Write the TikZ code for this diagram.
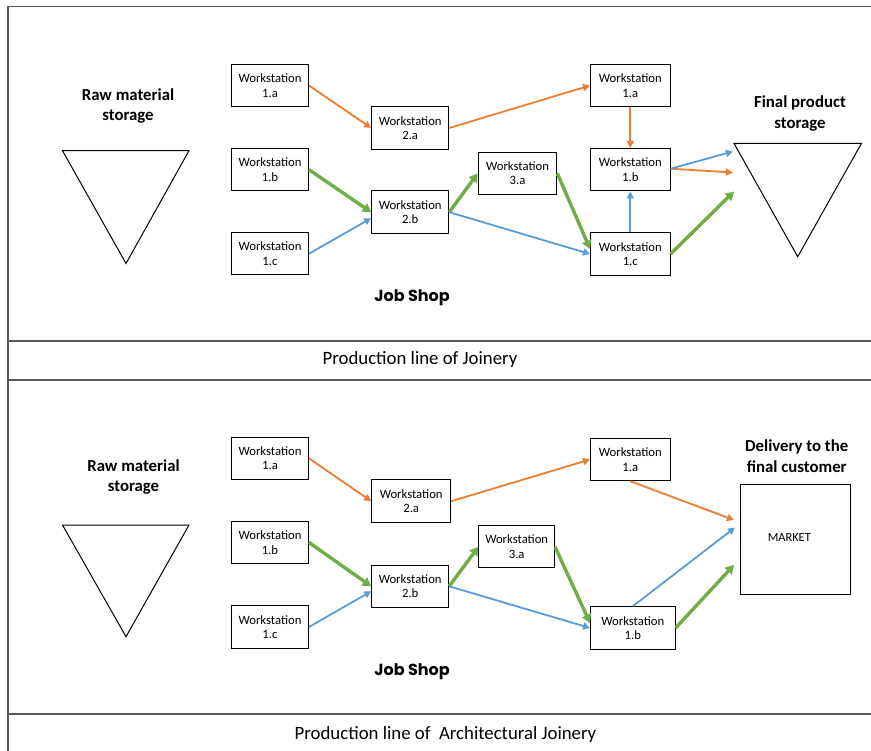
\documentclass[tikz,border=0pt]{standalone}
\usepackage{fontspec}
\setmainfont{Carlito}
\newfontfamily\shopfont{Poppins}
\usetikzlibrary{arrows.meta}
\definecolor{flowor}{HTML}{ED7D31}
\definecolor{flowbl}{HTML}{5B9BD5}
\definecolor{flowgr}{HTML}{70AD47}
\definecolor{framegray}{HTML}{595959}
\begin{document}
\begin{tikzpicture}[x=1pt,y=-1pt,
  ws/.style={draw=black, line width=1pt, fill=white, minimum width=77pt, minimum height=42.5pt,
    inner sep=0pt, align=center, font=\fontsize{12.7}{14.4}\selectfont},
  wide/.style={minimum width=79.5pt},
  heading/.style={align=center, font=\fontsize{16.8}{20.5}\selectfont\bfseries},
  caption/.style={font=\fontsize{18.8}{22}\selectfont},
  shop/.style={font=\fontsize{16}{19}\shopfont\bfseries},
  store/.style={draw=black, line width=1pt, line join=miter},
  frameline/.style={draw=framegray, line width=1.3pt},
  thin/.style={line width=1.8pt, -{Triangle[length=7pt,width=7pt]}},
  thick/.style={line width=3.4pt, -{Triangle[length=8.5pt,width=9.5pt]}},
  orflow/.style={thin, draw=flowor, color=flowor},
  blflow/.style={thin, draw=flowbl, color=flowbl},
  grflow/.style={thick, draw=flowgr, color=flowgr}]

\useasboundingbox (0,0) rectangle (871,751);

% frame and section rules
\draw[frameline] (871,6.5) -- (8,6.5) -- (8,751);
\draw[frameline] (8,341) -- (871,341);
\draw[frameline] (8,380) -- (871,380);
\draw[frameline] (8,714) -- (871,714);

% ---------------- Joinery ----------------
\node[heading] (rawA) at (128,106) {Raw material\\storage};
\draw[store] (62.5,150.7) -- (189,150.7) -- (126,263.5) -- cycle;

\node[heading] (finA) at (800,113.5) {Final product\\storage};
\draw[store] (734,143.3) -- (861.5,143.3) -- (797.7,256.7) -- cycle;
\coordinate (finAb) at (733,151.5);
\coordinate (finAo) at (733,172.5);
\coordinate (finAg) at (734,191.5);

\node[ws] (w1a) at (270,85.5) {Workstation\\1.a};
\node[ws] (w1b) at (270,169.7) {Workstation\\1.b};
\node[ws] (w1c) at (270,253.7) {Workstation\\1.c};
\node[ws] (w2a) at (410.2,128) {Workstation\\2.a};
\node[ws] (w2b) at (410.2,212.2) {Workstation\\2.b};
\node[ws,minimum width=78.5pt] (w3a) at (517.5,173.3) {Workstation\\3.a};
\node[ws,wide] (v1a) at (630.3,85.5) {Workstation\\1.a};
\node[ws,wide] (v1b) at (630.3,169.7) {Workstation\\1.b};
\node[ws,wide] (v1c) at (630.3,254) {Workstation\\1.c};

\node[shop] (shopA) at (412,298) {Job Shop};
\node[caption] (capA) at (420,359) {Production line of Joinery};

\draw[orflow] (w1a.east) -- (w2a.west);
\draw[orflow] (w2a.east) -- (v1a.west);
\draw[orflow] (v1a.south) -- (v1b.north);
\draw[orflow] ([yshift=1pt]v1b.east) -- (finAo);
\draw[blflow] ([yshift=1pt]v1b.east) -- (finAb);
\draw[grflow] (v1c.east) -- (finAg);
\draw[blflow] (v1c.north) -- (v1b.south);
\draw[grflow] (w3a.east) -- ([yshift=5pt]v1c.west);
\draw[grflow] (w2b.east) -- (w3a.west);
\draw[blflow] (w2b.east) -- (v1c.west);
\draw[grflow] (w1b.east) -- (w2b.west);
\draw[blflow] (w1c.east) -- ([yshift=-6pt]w2b.west);

% ---------------- Architectural Joinery ----------------
\node[heading] (rawB) at (133.5,477) {Raw material\\storage};
\draw[store] (62.5,525) -- (189,525) -- (126,636.7) -- cycle;

\node[heading] (delB) at (796.7,456) {Delivery to the\\final customer};
\node[draw=black, line width=1pt, minimum width=109.5pt, minimum height=110.5pt,
  inner sep=0pt] (mkt) at (795.3,539.7) {};
\node[font=\fontsize{12.4}{14.4}\selectfont] (mktlabel) at (789.3,537.5) {MARKET};
\coordinate (mkto) at (734,520);
\coordinate (mktb) at (735,527.5);
\coordinate (mktg) at (734,565);

\node[ws] (u1a) at (270,458.3) {Workstation\\1.a};
\node[ws] (u1b) at (270,542.5) {Workstation\\1.b};
\node[ws] (u1c) at (270,627) {Workstation\\1.c};
\node[ws,minimum width=79pt] (u2a) at (411.2,501.2) {Workstation\\2.a};
\node[ws] (u2b) at (410.2,586.3) {Workstation\\2.b};
\node[ws,minimum width=75.5pt] (u3a) at (516.7,546.7) {Workstation\\3.a};
\node[ws,wide] (x1a) at (630.3,459.5) {Workstation\\1.a};
\node[ws,minimum width=84.5pt] (x1b) at (632.8,628) {Workstation\\1.b};

\node[shop] (shopB) at (412,672) {Job Shop};
\node[caption] (capB) at (445.5,734) {Production line of\ \ Architectural Joinery};

\draw[orflow] (u1a.east) -- (u2a.west);
\draw[orflow] (u2a.east) -- (x1a.west);
\draw[orflow] (x1a.south) -- (mkto);
\draw[blflow] (x1b.north) -- (mktb);
\draw[grflow] (x1b.east) -- (mktg);
\draw[grflow] (u1b.east) -- (u2b.west);
\draw[blflow] (u1c.east) -- ([yshift=-5pt]u2b.west);
\draw[grflow] (u2b.east) -- (u3a.west);
\draw[blflow] (u2b.east) -- (x1b.west);
\draw[grflow] (u3a.east) -- ([yshift=5pt]x1b.west);

\end{tikzpicture}
\end{document}
